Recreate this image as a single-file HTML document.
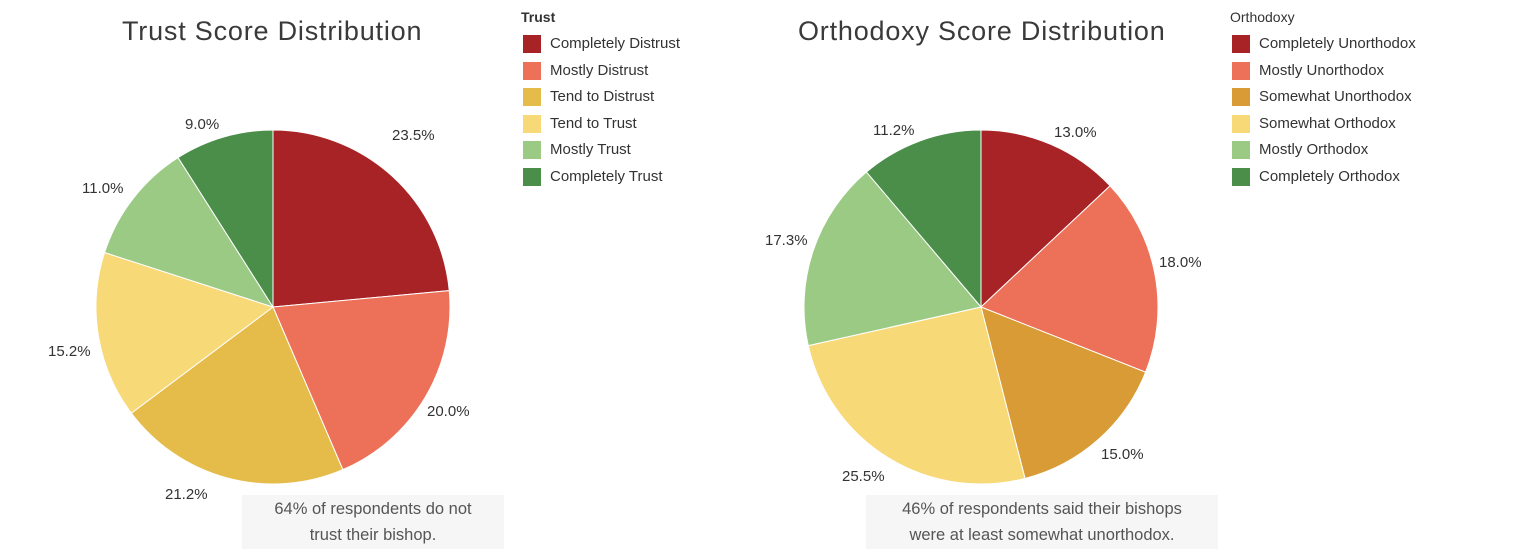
<!DOCTYPE html>
<html><head><meta charset="utf-8"><style>
body{margin:0;width:1532px;height:558px;background:#fff;font-family:"Liberation Sans",sans-serif;position:relative;overflow:hidden}
.t{position:absolute;font-size:27px;color:#3a3a3a;letter-spacing:0.8px}
.lt{position:absolute;font-size:14px;font-weight:bold;color:#333}
.li{position:absolute;font-size:15px;color:#333;height:20px;line-height:18px}
.li span{position:absolute;left:0;top:0;width:18px;height:18px}
.li b{position:absolute;left:27px;font-weight:normal;white-space:nowrap}
.lab{position:absolute;font-size:15px;color:#333}
.box{position:absolute;background:#f6f6f6;color:#555;font-size:16.5px;text-align:center;line-height:26px}
</style></head><body>
<div class="t" style="left:122px;top:16px">Trust Score Distribution</div>
<div class="t" style="left:798px;top:16px">Orthodoxy Score Distribution</div>
<svg id="s" width="1532" height="558" style="position:absolute;left:0;top:0"></svg>
<div class="lt" style="left:521px;top:9px">Trust</div>
<div class="li" style="left:523px;top:35px"><span style="background:#a82325"></span><b>Completely Distrust</b></div>
<div class="li" style="left:523px;top:62px"><span style="background:#ec7158"></span><b>Mostly Distrust</b></div>
<div class="li" style="left:523px;top:88px"><span style="background:#e5bc49"></span><b>Tend to Distrust</b></div>
<div class="li" style="left:523px;top:115px"><span style="background:#f7d978"></span><b>Tend to Trust</b></div>
<div class="li" style="left:523px;top:141px"><span style="background:#9bca85"></span><b>Mostly Trust</b></div>
<div class="li" style="left:523px;top:168px"><span style="background:#4b8e4a"></span><b>Completely Trust</b></div>
<div class="lt" style="left:1230px;top:9px;font-weight:normal">Orthodoxy</div>
<div class="li" style="left:1232px;top:35px"><span style="background:#a82325"></span><b>Completely Unorthodox</b></div>
<div class="li" style="left:1232px;top:62px"><span style="background:#ec7158"></span><b>Mostly Unorthodox</b></div>
<div class="li" style="left:1232px;top:88px"><span style="background:#d89b35"></span><b>Somewhat Unorthodox</b></div>
<div class="li" style="left:1232px;top:115px"><span style="background:#f7d978"></span><b>Somewhat Orthodox</b></div>
<div class="li" style="left:1232px;top:141px"><span style="background:#9bca85"></span><b>Mostly Orthodox</b></div>
<div class="li" style="left:1232px;top:168px"><span style="background:#4b8e4a"></span><b>Completely Orthodox</b></div>
<div class="lab" style="left:185px;top:116px">9.0%</div>
<div class="lab" style="left:392px;top:127px">23.5%</div>
<div class="lab" style="left:82px;top:180px">11.0%</div>
<div class="lab" style="left:48px;top:343px">15.2%</div>
<div class="lab" style="left:427px;top:403px">20.0%</div>
<div class="lab" style="left:165px;top:486px">21.2%</div>
<div class="lab" style="left:873px;top:122px">11.2%</div>
<div class="lab" style="left:1054px;top:124px">13.0%</div>
<div class="lab" style="left:765px;top:232px">17.3%</div>
<div class="lab" style="left:1159px;top:254px">18.0%</div>
<div class="lab" style="left:1101px;top:446px">15.0%</div>
<div class="lab" style="left:842px;top:468px">25.5%</div>
<div class="box" style="left:242px;top:495px;width:262px;height:53px;padding-top:1px">64% of respondents do not<br>trust their bishop.</div>
<div class="box" style="left:866px;top:495px;width:352px;height:53px;padding-top:1px">46% of respondents said their bishops<br>were at least somewhat unorthodox.</div>
<script>
var s=document.getElementById('s');
function pie(cx,cy,r,vals,cols){var a=0,tot=vals.reduce((x,y)=>x+y);
vals.forEach(function(v,i){var a1=a+v/tot*2*Math.PI;
var x0=cx+r*Math.sin(a),y0=cy-r*Math.cos(a),x1=cx+r*Math.sin(a1),y1=cy-r*Math.cos(a1);
var p=document.createElementNS('http://www.w3.org/2000/svg','path');
p.setAttribute('d','M'+cx+','+cy+'L'+x0+','+y0+'A'+r+','+r+' 0 '+(a1-a>Math.PI?1:0)+' 1 '+x1+','+y1+'Z');
p.setAttribute('fill',cols[i]);p.setAttribute('stroke','#fff');p.setAttribute('stroke-width','1');s.appendChild(p);a=a1;});}
pie(273,307,177,[23.5,20.0,21.2,15.2,11.0,9.0],['#a82325','#ec7158','#e5bc49','#f7d978','#9bca85','#4b8e4a']);
pie(981,307,177,[13.0,18.0,15.0,25.5,17.3,11.2],['#a82325','#ec7158','#d89b35','#f7d978','#9bca85','#4b8e4a']);
</script>
</body></html>
